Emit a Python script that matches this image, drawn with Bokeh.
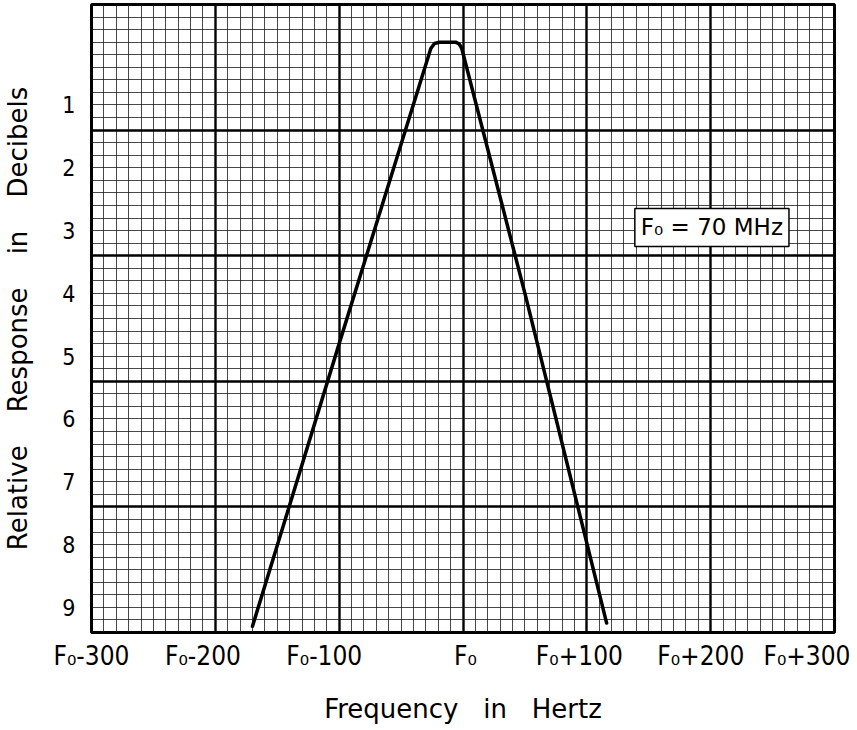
import numpy as np
from bokeh.plotting import figure
from bokeh.models import Range1d, FixedTicker, Label
from bokeh.embed import file_html
from bokeh.resources import INLINE

# ---------------- data ----------------
freq_offset_hz = [-170, -100, -26, -23, -19, -6, -3, -1, 50, 116]
response_db = [9.3, 4.8, 0.1, 0.02, 0.0, 0.0, 0.03, 0.1, 4.0, 9.25]

x_tick_values = [-300, -200, -100, 0, 100, 200, 300]
x_tick_labels = ["F₀-300", "F₀-200", "F₀-100", "F₀", "F₀+100", "F₀+200", "F₀+300"]

y_tick_values = [1, 2, 3, 4, 5, 6, 7, 8, 9]
y_tick_labels = ["1", "2", "3", "4", "5", "6", "7", "8", "9"]

note_text = "F₀ = 70 MHz"
NB = "\u00a0" * 4
x_title = "Frequency\u00a0\u00a0\u00a0in\u00a0\u00a0\u00a0Hertz"
y_title = f"Relative{NB}Response{NB}in{NB}Decibels"

# ---------------- layout / style ----------------
X_MIN, X_MAX = -300, 300
Y_TOP, Y_BOTTOM = -0.6, 9.4
NARROW = "DejaVu Sans Condensed"
WIDE = "DejaVu Sans"
# the printed labels sit a little left of their grid lines (nudge in Hz)
label_nudge_hz = [0, -10, -12, 2, -6, -8, -18]
label_pos = [v + d for v, d in zip(x_tick_values, label_nudge_hz)]

p = figure(width=850, height=726,
           min_border_left=89, min_border_right=16,
           min_border_top=4, min_border_bottom=94,
           x_range=Range1d(X_MIN, X_MAX), y_range=Range1d(Y_BOTTOM, Y_TOP),
           output_backend="svg", toolbar_location=None)

p.background_fill_color = "white"
p.border_fill_color = "white"
p.outline_line_color = "black"
p.outline_line_width = 3

# graph-paper grid
x_major = np.arange(X_MIN, X_MAX + 1, 100).tolist()
x_minor = np.arange(X_MIN, X_MAX + 1, 10).tolist()
y_major = np.round(np.arange(Y_TOP, Y_BOTTOM + 0.01, 2.0), 2).tolist()
y_minor = np.round(np.arange(Y_TOP, Y_BOTTOM + 0.01, 0.2), 2).tolist()

p.xgrid.ticker = FixedTicker(ticks=x_major, minor_ticks=x_minor)
p.ygrid.ticker = FixedTicker(ticks=y_major, minor_ticks=y_minor)
for g in (p.xgrid, p.ygrid):
    g.grid_line_color = "black"
    g.grid_line_width = 2.4
    g.minor_grid_line_color = "#1a1a1a"
    g.minor_grid_line_width = 1
    g.minor_grid_line_alpha = 0.8

# x axis
p.xaxis.ticker = FixedTicker(ticks=label_pos)
p.xaxis.major_label_overrides = {pos: s for pos, s in zip(label_pos, x_tick_labels)}
p.xaxis.axis_line_color = None
p.xaxis.major_tick_line_color = None
p.xaxis.minor_tick_line_color = None
p.xaxis.major_label_text_font = NARROW
p.xaxis.major_label_text_font_size = "26px"
p.xaxis.major_label_text_color = "black"
p.xaxis.major_label_standoff = 2
p.xaxis.axis_label = x_title
p.xaxis.axis_label_text_font = WIDE
p.xaxis.axis_label_text_font_size = "26px"
p.xaxis.axis_label_text_font_style = "normal"
p.xaxis.axis_label_text_color = "black"
p.xaxis.axis_label_standoff = 20

# y axis
p.yaxis.ticker = FixedTicker(ticks=y_tick_values)
p.yaxis.major_label_overrides = {v: s for v, s in zip(y_tick_values, y_tick_labels)}
p.yaxis.axis_line_color = None
p.yaxis.major_tick_line_color = None
p.yaxis.minor_tick_line_color = None
p.yaxis.major_label_text_font = NARROW
p.yaxis.major_label_text_font_size = "23px"
p.yaxis.major_label_text_color = "black"
p.yaxis.major_label_standoff = 10
p.yaxis.axis_label = y_title
p.yaxis.axis_label_text_font = WIDE
p.yaxis.axis_label_text_font_size = "26px"
p.yaxis.axis_label_text_font_style = "normal"
p.yaxis.axis_label_text_color = "black"
p.yaxis.axis_label_standoff = 26

# response curve
p.line(freq_offset_hz, response_db, line_color="black", line_width=3.5,
       line_join="round", line_cap="round")

# note box
p.add_layout(Label(x=201, y=2.95, text=note_text, text_align="center",
                   text_baseline="middle", text_font=WIDE, text_font_size="23px",
                   text_color="black", background_fill_color="white",
                   border_line_color="black", border_line_width=1.5, padding=6))

open("out.html", "w").write(file_html(p, INLINE))
